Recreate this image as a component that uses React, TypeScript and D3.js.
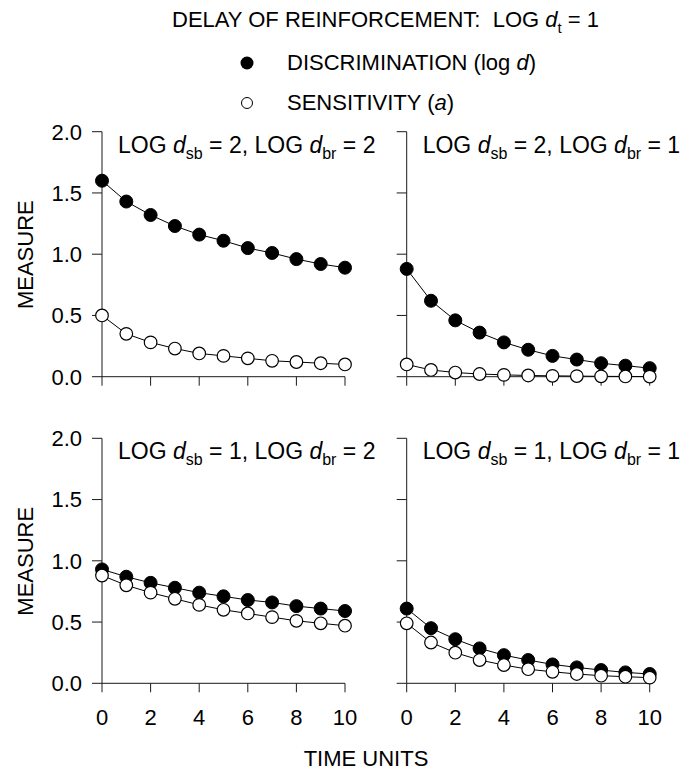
import React from "react";
import * as d3 from "d3";

const timeUnits = [0, 1, 2, 3, 4, 5, 6, 7, 8, 9, 10];
const xTicks = [0, 2, 4, 6, 8, 10];
const yTicks = [0, 0.5, 1.0, 1.5, 2.0];

// panel: LOG dsb = 2, LOG dbr = 2
const discA = [1.6, 1.43, 1.32, 1.23, 1.16, 1.11, 1.05, 1.01, 0.96, 0.92, 0.89];
const sensA = [0.5, 0.35, 0.28, 0.23, 0.19, 0.17, 0.15, 0.13, 0.12, 0.11, 0.1];
// panel: LOG dsb = 2, LOG dbr = 1
const discB = [0.88, 0.62, 0.46, 0.36, 0.28, 0.22, 0.17, 0.14, 0.11, 0.09, 0.07];
const sensB = [0.1, 0.055, 0.034, 0.022, 0.015, 0.01, 0.007, 0.005, 0.003, 0.002, 0.001];
// panel: LOG dsb = 1, LOG dbr = 2
const discC = [0.93, 0.87, 0.82, 0.78, 0.74, 0.71, 0.68, 0.66, 0.63, 0.61, 0.59];
const sensC = [0.88, 0.8, 0.74, 0.69, 0.64, 0.6, 0.57, 0.54, 0.51, 0.49, 0.47];
// panel: LOG dsb = 1, LOG dbr = 1
const discD = [0.61, 0.45, 0.36, 0.285, 0.23, 0.19, 0.154, 0.13, 0.108, 0.089, 0.076];
const sensD = [0.49, 0.333, 0.25, 0.19, 0.149, 0.115, 0.094, 0.076, 0.062, 0.054, 0.046];

const panelSb = ["2", "2", "1", "1"];
const panelBr = ["2", "1", "2", "1"];

const FONT = "'Liberation Sans', Arial, Helvetica, sans-serif";
const FS = 22;
const FSL = 23;

type PanelProps = {
  x0: number;
  yBottom: number;
  disc: number[];
  sens: number[];
  sb: string;
  br: string;
  showYLabels: boolean;
  showXLabels: boolean;
};

function Panel({ x0, yBottom, disc, sens, sb, br, showYLabels, showXLabels }: PanelProps) {
  const x = d3.scaleLinear().domain([0, 10]).range([x0, x0 + 243]);
  const y = d3.scaleLinear().domain([0, 2]).range([yBottom, yBottom - 245]);
  const line = d3
    .line<number>()
    .x((_, i) => x(timeUnits[i]))
    .y((d) => y(d));
  const tickLen = 10;
  const stroke = "#1a1a1a";
  return (
    <g>
      {/* y axis */}
      <line x1={x(0)} x2={x(0)} y1={y(0)} y2={y(2)} stroke={stroke} strokeWidth={1} />
      {yTicks.map((t) => (
        <line key={"yt" + t} x1={x(0) - tickLen} x2={x(0)} y1={y(t)} y2={y(t)} stroke={stroke} strokeWidth={1} />
      ))}
      {/* x axis */}
      <line x1={x(0)} x2={x(10)} y1={y(0)} y2={y(0)} stroke={stroke} strokeWidth={1} />
      {xTicks.map((t) => (
        <line key={"xt" + t} x1={x(t)} x2={x(t)} y1={y(0)} y2={y(0) + 9} stroke={stroke} strokeWidth={1} />
      ))}
      {showYLabels &&
        yTicks.map((t) => (
          <text
            key={"yl" + t}
            x={x(0) - 20}
            y={y(t)}
            dy="0.36em"
            textAnchor="end"
            fontFamily={FONT}
            fontSize={FS}
            fill="#000"
          >
            {d3.format(".1f")(t)}
          </text>
        ))}
      {showXLabels &&
        xTicks.map((t) => (
          <text
            key={"xl" + t}
            x={x(t)}
            y={y(0) + 42}
            textAnchor="middle"
            fontFamily={FONT}
            fontSize={FS}
            fill="#000"
          >
            {t}
          </text>
        ))}
      {/* panel label */}
      <text x={x0 + 16} y={y(2) + 21} fontFamily={FONT} fontSize={FSL} fill="#000">
        <tspan>LOG </tspan>
        <tspan fontStyle="italic">d</tspan>
        <tspan fontSize={16} dy={6}>sb</tspan>
        <tspan dy={-6}>{" = " + sb + ", LOG "}</tspan>
        <tspan fontStyle="italic">d</tspan>
        <tspan fontSize={16} dy={6}>br</tspan>
        <tspan dy={-6}>{" = " + br}</tspan>
      </text>
      {/* lines */}
      <path d={line(disc) || ""} fill="none" stroke="#000" strokeWidth={1} />
      <path d={line(sens) || ""} fill="none" stroke="#000" strokeWidth={1} />
      {disc.map((v, i) => (
        <circle key={"d" + i} cx={x(timeUnits[i])} cy={y(v)} r={6.5} fill="#000" stroke="#000" strokeWidth={1} />
      ))}
      {sens.map((v, i) => (
        <circle key={"s" + i} cx={x(timeUnits[i])} cy={y(v)} r={6.3} fill="#fff" stroke="#000" strokeWidth={1.2} />
      ))}
    </g>
  );
}

export default function App() {
  const leftX = 102;
  const rightX = 406.7;
  const topB = 376.7;
  const botB = 683.3;
  return (
    <svg
      width={680}
      height={773}
      viewBox="0 0 680 773"
      style={{ position: "absolute", left: 0, top: 0, background: "#fff" }}
    >
      <rect width={680} height={773} fill="#fff" />
      {/* title */}
      <text x={172} y={27} fontFamily={FONT} fontSize={FS} fill="#000">
        <tspan>{"DELAY OF REINFORCEMENT:\u00a0\u00a0LOG "}</tspan>
        <tspan fontStyle="italic">d</tspan>
        <tspan fontSize={15} dy={6}>t</tspan>
        <tspan dy={-6}> = 1</tspan>
      </text>
      {/* legend */}
      <circle cx={247} cy={63} r={6.5} fill="#000" />
      <text x={287} y={70} fontFamily={FONT} fontSize={FS} fill="#000">
        <tspan>DISCRIMINATION (log </tspan>
        <tspan fontStyle="italic">d</tspan>
        <tspan>)</tspan>
      </text>
      <circle cx={247} cy={103} r={5.5} fill="#fff" stroke="#000" strokeWidth={1} />
      <text x={287} y={110} fontFamily={FONT} fontSize={FS} fill="#000">
        <tspan>SENSITIVITY (</tspan>
        <tspan fontStyle="italic">a</tspan>
        <tspan>)</tspan>
      </text>

      <Panel x0={leftX} yBottom={topB} disc={discA} sens={sensA} sb={panelSb[0]} br={panelBr[0]} showYLabels showXLabels={false} />
      <Panel x0={rightX} yBottom={topB} disc={discB} sens={sensB} sb={panelSb[1]} br={panelBr[1]} showYLabels={false} showXLabels={false} />
      <Panel x0={leftX} yBottom={botB} disc={discC} sens={sensC} sb={panelSb[2]} br={panelBr[2]} showYLabels showXLabels />
      <Panel x0={rightX} yBottom={botB} disc={discD} sens={sensD} sb={panelSb[3]} br={panelBr[3]} showYLabels={false} showXLabels />

      {/* axis titles */}
      <text
        transform={`translate(33, ${topB - 122}) rotate(-90)`}
        textAnchor="middle"
        fontFamily={FONT}
        fontSize={FS}
        fill="#000"
      >
        MEASURE
      </text>
      <text
        transform={`translate(33, ${botB - 122}) rotate(-90)`}
        textAnchor="middle"
        fontFamily={FONT}
        fontSize={FS}
        fill="#000"
      >
        MEASURE
      </text>
      <text x={366} y={766} textAnchor="middle" fontFamily={FONT} fontSize={FS} fill="#000">
        TIME UNITS
      </text>
    </svg>
  );
}
